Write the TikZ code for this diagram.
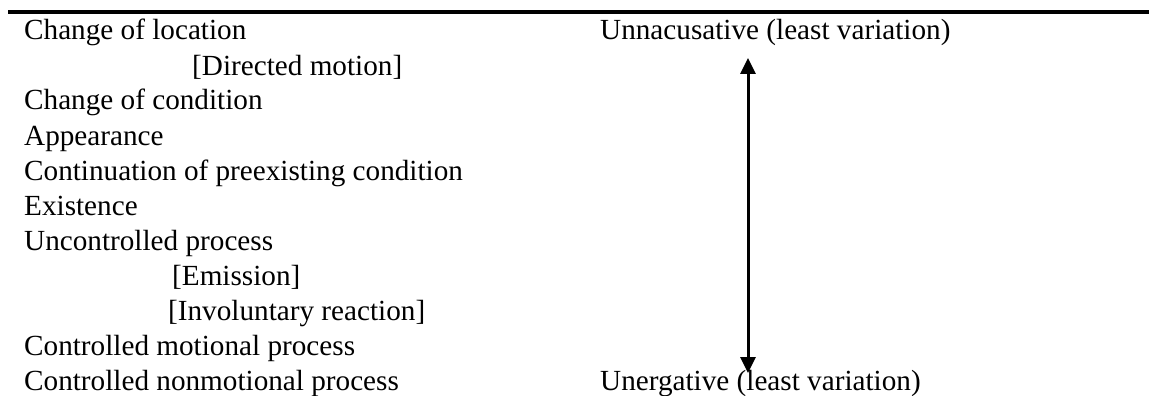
\documentclass[tikz,border=0pt]{standalone}
\usepackage{fontspec}
\setmainfont{Liberation Serif}
\usetikzlibrary{arrows.meta}
\begin{document}
\begin{tikzpicture}[x=1pt,y=-1pt,
    txt/.style={anchor=base west,inner sep=0pt,font=\fontsize{29.2}{34}\selectfont}]
    \useasboundingbox (0,0) rectangle (1149,396);
    % top rule
    \coordinate (ruleL) at (8,12);
    \coordinate (ruleR) at (1149,12);
    \draw [line width=3.5pt] (ruleL) -- (ruleR);
    % left column
    \node[txt] (loc) at (24,40) {Change of location};
    \node[txt] (dir) at (192,75) {[Directed motion]};
    \node[txt] (cond) at (24,110) {Change of condition};
    \node[txt] (app) at (24,145) {Appearance};
    \node[txt] (cont) at (24,180) {Continuation of preexisting condition};
    \node[txt] (exist) at (24,215) {Existence};
    \node[txt] (unc) at (24,250) {Uncontrolled process};
    \node[txt] (emis) at (172,285) {[Emission]};
    \node[txt] (invol) at (168,320) {[Involuntary reaction]};
    \node[txt] (motion) at (24,355) {Controlled motional process};
    \node[txt] (nonmot) at (24,390) {Controlled nonmotional process};
    % right column
    \node[txt] (unacc) at (600,40) {Unnacusative (least variation)};
    \node[txt] (unerg) at (600,390) {Unergative (least variation)};
    \coordinate (up) at (748,58);
    \coordinate (down) at (748,373);
    \draw [{Triangle[length=16pt,width=15pt]}-{Triangle[length=16pt,width=15pt]},line width=3pt] (up) -- (down);
\end{tikzpicture}
\end{document}
